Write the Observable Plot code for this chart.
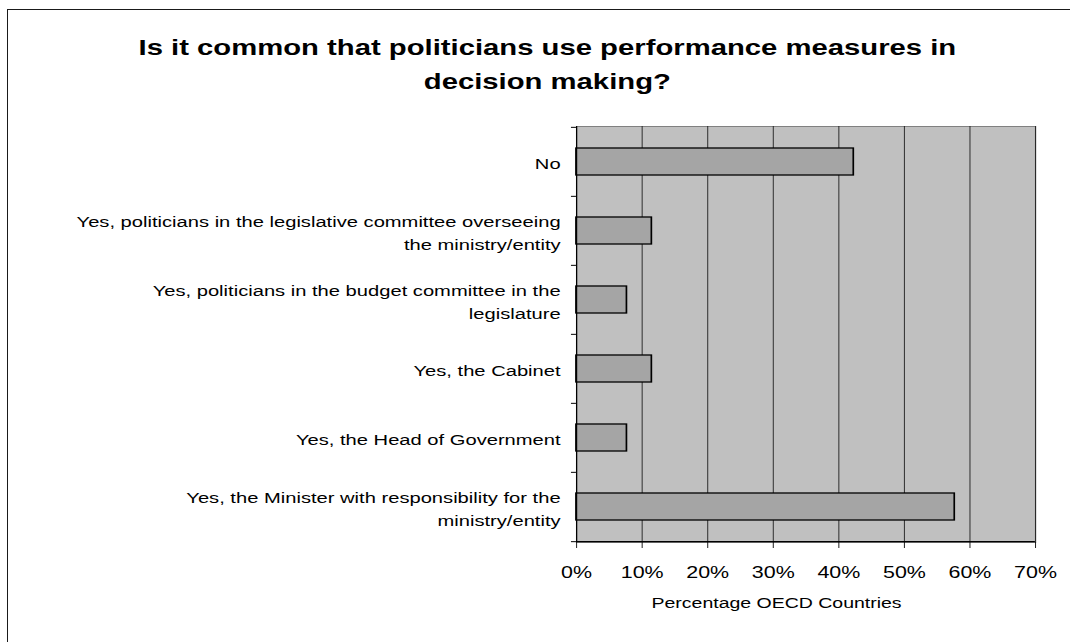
<!DOCTYPE html>
<html>
<head>
<meta charset="utf-8">
<script src="https://cdn.jsdelivr.net/npm/d3@7"></script>
<script src="https://cdn.jsdelivr.net/npm/@observablehq/plot@0.6"></script>
<style>
html, body { margin: 0; padding: 0; background: #fff; overflow: hidden; }
#wrap { position: relative; width: 1070px; height: 642px; overflow: hidden; }
#border { position: absolute; left: 7px; top: 9px; width: 1200px; height: 800px;
  border-left: 1px solid #1a1a1a; border-top: 1px solid #1a1a1a; }
#chart { position: absolute; left: 0; top: 0; width: 823px; height: 642px;
  transform: scaleX(1.30012); transform-origin: 0 0; }
#title { height: 100px; box-sizing: border-box; padding-top: 31px; padding-left: 19px;
  text-align: center; font: bold 22.5px "Liberation Sans", Arial, sans-serif;
  line-height: 34px; color: #000; }
#chart svg { display: block; }
</style>
</head>
<body>
<div id="wrap">
  <div id="border"></div>
  <div id="chart"><div id="title"></div></div>
</div>
<script>
// ---- data ----
const titleLines = [
  "Is it common that politicians use performance measures in",
  "decision making?"
];
const categories = [
  "No",
  "Yes, politicians in the legislative committee overseeing the ministry/entity",
  "Yes, politicians in the budget committee in the legislature",
  "Yes, the Cabinet",
  "Yes, the Head of Government",
  "Yes, the Minister with responsibility for the ministry/entity"
];
const tickLabels = [
  "No",
  "Yes, politicians in the legislative committee overseeing\nthe ministry/entity",
  "Yes, politicians in the budget committee in the\nlegislature",
  "Yes, the Cabinet",
  "Yes, the Head of Government",
  "Yes, the Minister with responsibility for the\nministry/entity"
];
const shares = [42.3, 11.5, 7.7, 11.5, 7.7, 57.7];
const xTicks = [0, 10, 20, 30, 40, 50, 60, 70];
const xLabel = "Percentage OECD Countries";

// ---- layout ----
const S = 1070 / 823;           // horizontal stretch of the original
const px = v => v / S;          // horizontal pixels -> unscaled units
const W = 823, H = 542, mTop = 26, mBottom = 100;
const step = (H - mTop - mBottom) / categories.length;

document.getElementById("title").innerHTML = titleLines.join("<br>");

const data = categories.map((c, i) => ({category: c, share: shares[i]}));

const chart = Plot.plot({
  width: W,
  height: H,
  marginLeft: 443,
  marginRight: 27,
  marginTop: mTop,
  marginBottom: mBottom,
  style: {
    fontFamily: '"Liberation Sans", Arial, sans-serif',
    fontSize: "15px",
    color: "#000",
    background: "transparent",
    overflow: "visible"
  },
  x: {domain: [0, 70], ticks: xTicks},
  y: {domain: categories, paddingInner: 0.61, paddingOuter: 0.305},
  marks: [
    Plot.frame({fill: "#c0c0c0", stroke: "#808080", strokeWidth: 1}),
    Plot.ruleX(xTicks.slice(1), {stroke: "#1a1a1a", strokeWidth: 1 / S}),
    Plot.barX(data, {y: "category", x: "share", fill: "#a5a5a5", stroke: "#000", strokeWidth: 1.3}),
    Plot.ruleX([0], {stroke: "#000", strokeWidth: 1.2 / S}),
    Plot.ruleY([categories[categories.length - 1]], {dy: step / 2, stroke: "#000", strokeWidth: 1.2}),
    Plot.axisY({ticks: categories, tickSize: px(5), fill: "none", label: null,
      dy: -step / 2, stroke: "#000", strokeWidth: 1}),
    Plot.axisY({ticks: [categories[categories.length - 1]], tickSize: px(5), fill: "none", label: null,
      dy: step / 2, stroke: "#000", strokeWidth: 1}),
    Plot.axisY({tickSize: 0, tickPadding: px(16), label: null, fontSize: 15.5, lineHeight: 1.48,
      tickFormat: d => tickLabels[categories.indexOf(d)]}),
    Plot.axisX({ticks: xTicks, tickFormat: d => d + "%", tickSize: 6, tickPadding: 18,
      fontSize: 16.5, label: null, stroke: "#000", strokeWidth: 1 / S}),
    Plot.text([xLabel], {text: d => d, frameAnchor: "bottom", dy: 65, dx: px(-29.5), fontSize: 15, fill: "#000"})
  ]
});
document.getElementById("chart").appendChild(chart);
</script>
</body>
</html>
